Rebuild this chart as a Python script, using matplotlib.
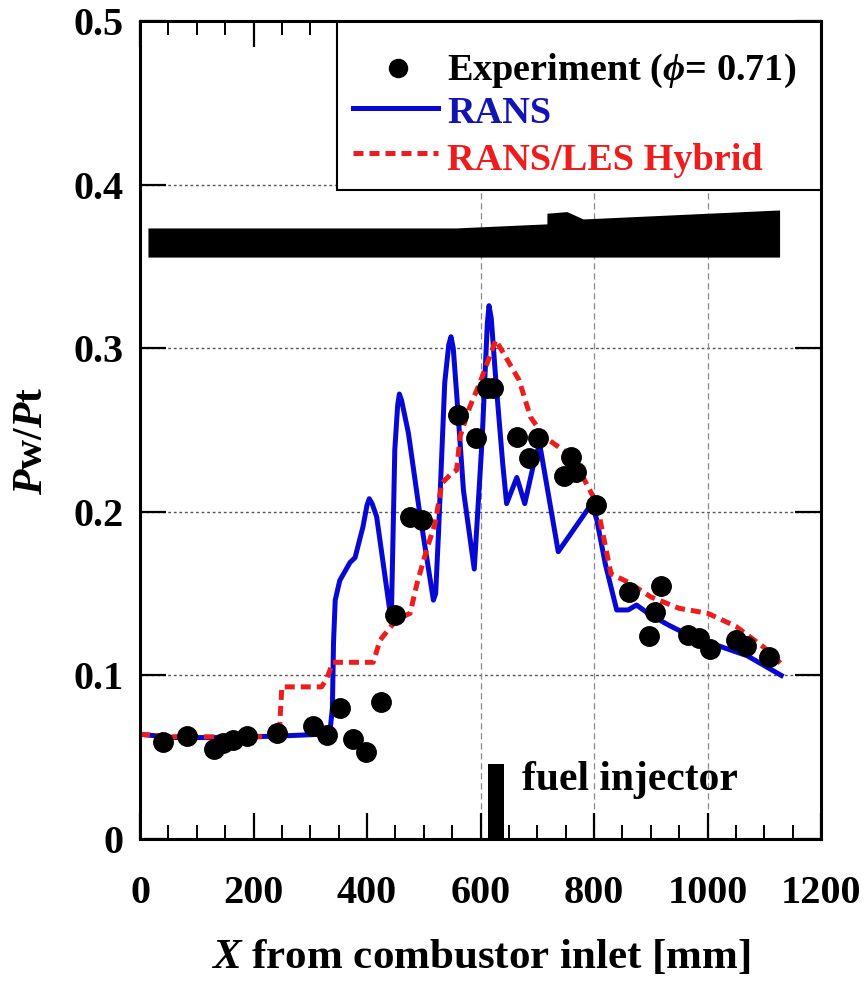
import matplotlib
matplotlib.use("Agg")
import matplotlib.pyplot as plt
from matplotlib.patches import Rectangle
from matplotlib.lines import Line2D

plt.rcParams['font.family'] = ['Liberation Serif', 'DejaVu Serif']
plt.rcParams['font.weight'] = 'bold'
plt.rcParams['axes.labelweight'] = 'bold'
plt.rcParams['mathtext.fontset'] = 'custom'
plt.rcParams['mathtext.rm'] = 'Liberation Serif:bold'
plt.rcParams['mathtext.it'] = 'Liberation Serif:italic:bold'
plt.rcParams['mathtext.bf'] = 'Liberation Serif:bold'

# ---------------- data ----------------
exp_x = [41, 83, 130, 146, 164, 188, 241, 304, 329, 352, 376, 399, 424,
         449, 475, 497, 561, 592, 612, 622, 664, 685, 701, 747, 760, 769,
         803, 862, 897, 908, 918, 965, 985, 1004, 1050, 1067, 1109]
exp_y = [0.0595, 0.063, 0.055, 0.0587, 0.0605, 0.063, 0.065, 0.069, 0.0636, 0.080,
         0.0614, 0.0533, 0.0839, 0.137, 0.197, 0.195, 0.259, 0.245, 0.2755, 0.2755,
         0.2457, 0.233, 0.245, 0.222, 0.2337, 0.2245, 0.204, 0.151, 0.124, 0.139,
         0.1547, 0.1247, 0.123, 0.116, 0.1217, 0.118, 0.111]

rans_x = [0, 60, 150, 250, 320, 335, 339, 341, 344, 352, 370, 379, 393, 400,
          404, 409, 417, 440, 443, 449, 454, 457, 461, 473, 493, 517, 521, 526,
          537, 544, 548, 552, 558, 570, 589, 603, 612, 615, 619, 627, 639, 646,
          664, 678, 698, 705, 737, 796, 805, 820, 840, 860, 875, 895, 930, 970,
          1020, 1070, 1130]
rans_y = [0.064, 0.062, 0.062, 0.063, 0.064, 0.0666, 0.08, 0.12, 0.146, 0.158,
          0.169, 0.172, 0.191, 0.204, 0.208, 0.205, 0.197, 0.140, 0.137, 0.238,
          0.265, 0.272, 0.268, 0.248, 0.199, 0.146, 0.150, 0.187, 0.279, 0.302,
          0.307, 0.300, 0.272, 0.213, 0.165, 0.245, 0.315, 0.326, 0.318, 0.2805,
          0.23, 0.205, 0.221, 0.205, 0.236, 0.240, 0.1756, 0.205, 0.195, 0.168,
          0.140, 0.140, 0.143, 0.138, 0.131, 0.124, 0.118, 0.112, 0.100]

hyb_x = [0, 60, 150, 245, 250, 320, 329, 340, 411, 423, 452, 476, 488, 505,
         520, 532, 549, 558, 564, 581, 599, 627, 668, 688, 712, 732, 761, 777,
         805, 830, 860, 900, 950, 1000, 1050, 1100, 1130]
hyb_y = [0.064, 0.0625, 0.0625, 0.0625, 0.093, 0.093, 0.098, 0.108, 0.108,
         0.1216, 0.134, 0.138, 0.156, 0.1767, 0.193, 0.2175, 0.2235, 0.2255,
         0.246, 0.264, 0.279, 0.305, 0.2805, 0.258, 0.246, 0.241, 0.234, 0.2236,
         0.205, 0.162, 0.157, 0.148, 0.141, 0.138, 0.130, 0.117, 0.107]

# combustor geometry silhouette
shape_x = [14, 556, 717, 717, 752, 781, 1127]
shape_top = [0.3735, 0.3735, 0.376, 0.3825, 0.3835, 0.379, 0.3845]
shape_bottom = 0.3557

injector_x = 627
injector_w = 28
injector_h = 0.046

xticks = [0, 200, 400, 600, 800, 1000, 1200]
xticklabels = ["0", "200", "400", "600", "800", "1000", "1200"]
yticks = [0, 0.1, 0.2, 0.3, 0.4, 0.5]
yticklabels = ["0", "0.1", "0.2", "0.3", "0.4", "0.5"]
hgrid = [0.1, 0.2, 0.3, 0.4]
vgrid = [600, 800, 1000]

labels = ["Experiment ($\\phi$= 0.71)", "RANS", "RANS/LES Hybrid"]
BLUE = "#0808d4"
RED = "#ee1c1c"
LW = 3.6

# ---------------- figure ----------------
fig = plt.figure(figsize=(8.68, 9.85), dpi=100)
ax = fig.add_axes([140/868, 1-839/985, 681/868, 818/985])
ax.set_xlim(0, 1200)
ax.set_ylim(0, 0.5)

for g in hgrid:
    ax.axhline(g, color="#555555", lw=1.0, ls=(0, (2, 2)), zorder=1)
for g in vgrid:
    ax.axvline(g, color="#888888", lw=0.9, ls=(0, (5, 3)), zorder=1)

ax.fill_between(shape_x, shape_bottom, shape_top, color="black", lw=0, zorder=2)
ax.bar([injector_x], [injector_h], width=injector_w, color="black", zorder=2)

ax.plot(rans_x, rans_y, color=BLUE, lw=LW, zorder=3, solid_joinstyle="round")
ax.plot(hyb_x, hyb_y, color=RED, lw=LW, dashes=(2.0, 1.2), zorder=3.5)
ax.plot(exp_x, exp_y, "o", color="black", ms=14, zorder=4)

ax.text(673, 0.036, "fuel injector", fontsize=30, va="center", ha="left", zorder=4)

# legend (manual, in axes coordinates)
ax.add_patch(Rectangle((0.2893, 0.7934), 1 - 0.2893, 1 - 0.7934, transform=ax.transAxes,
                       facecolor="white", edgecolor="black", lw=1.5, zorder=5))
ax.add_line(Line2D([0.3789], [0.9425], marker="o", color="black", ms=13,
                   transform=ax.transAxes, zorder=6))
ax.add_line(Line2D([0.3128, 0.4376], [0.8936, 0.8936], color=BLUE, lw=LW,
                   transform=ax.transAxes, zorder=6))
ax.add_line(Line2D([0.3128, 0.4376], [0.8386, 0.8386], color=RED, lw=LW,
                   dashes=(2.0, 1.2), transform=ax.transAxes, zorder=6))
ax.text(0.4508, 0.9279, labels[0], transform=ax.transAxes, fontsize=27.5,
        color="black", va="baseline", ha="left", zorder=6)
ax.text(0.4508, 0.8753, labels[1], transform=ax.transAxes, fontsize=27.5,
        color="#1414b4", va="baseline", ha="left", zorder=6)
ax.text(0.4508, 0.8178, labels[2], transform=ax.transAxes, fontsize=27.5,
        color=RED, va="baseline", ha="left", zorder=6)

# ticks
ax.set_xticks(xticks)
ax.set_xticklabels(xticklabels)
ax.set_xticks(range(0, 1201, 50), minor=True)
ax.set_yticks(yticks)
ax.set_yticklabels(yticklabels)
ax.tick_params(axis="both", which="major", direction="in", length=19, width=1.6,
               labelsize=29, top=True, right=True)
ax.tick_params(axis="x", which="minor", direction="in", length=10, width=1.4,
               top=True, bottom=True)
ax.tick_params(axis="x", which="major", pad=26)
ax.tick_params(axis="y", which="major", pad=12)
for s in ax.spines.values():
    s.set_linewidth(2.2)
    s.set_zorder(7)

ax.set_xlabel("$X$ from combustor inlet [mm]", fontsize=31, fontweight="bold")
ax.xaxis.set_label_coords(0.5, (839 - 958) / 818)
ax.xaxis.label.set_va("center")
ax.set_ylabel("$P$w/$P$t", fontsize=30, fontweight="bold")
ax.yaxis.set_label_coords((32 - 140) / 681, (839 - 441) / 818)
ax.yaxis.label.set_va("center")

fig.savefig("out.png", dpi=100)
